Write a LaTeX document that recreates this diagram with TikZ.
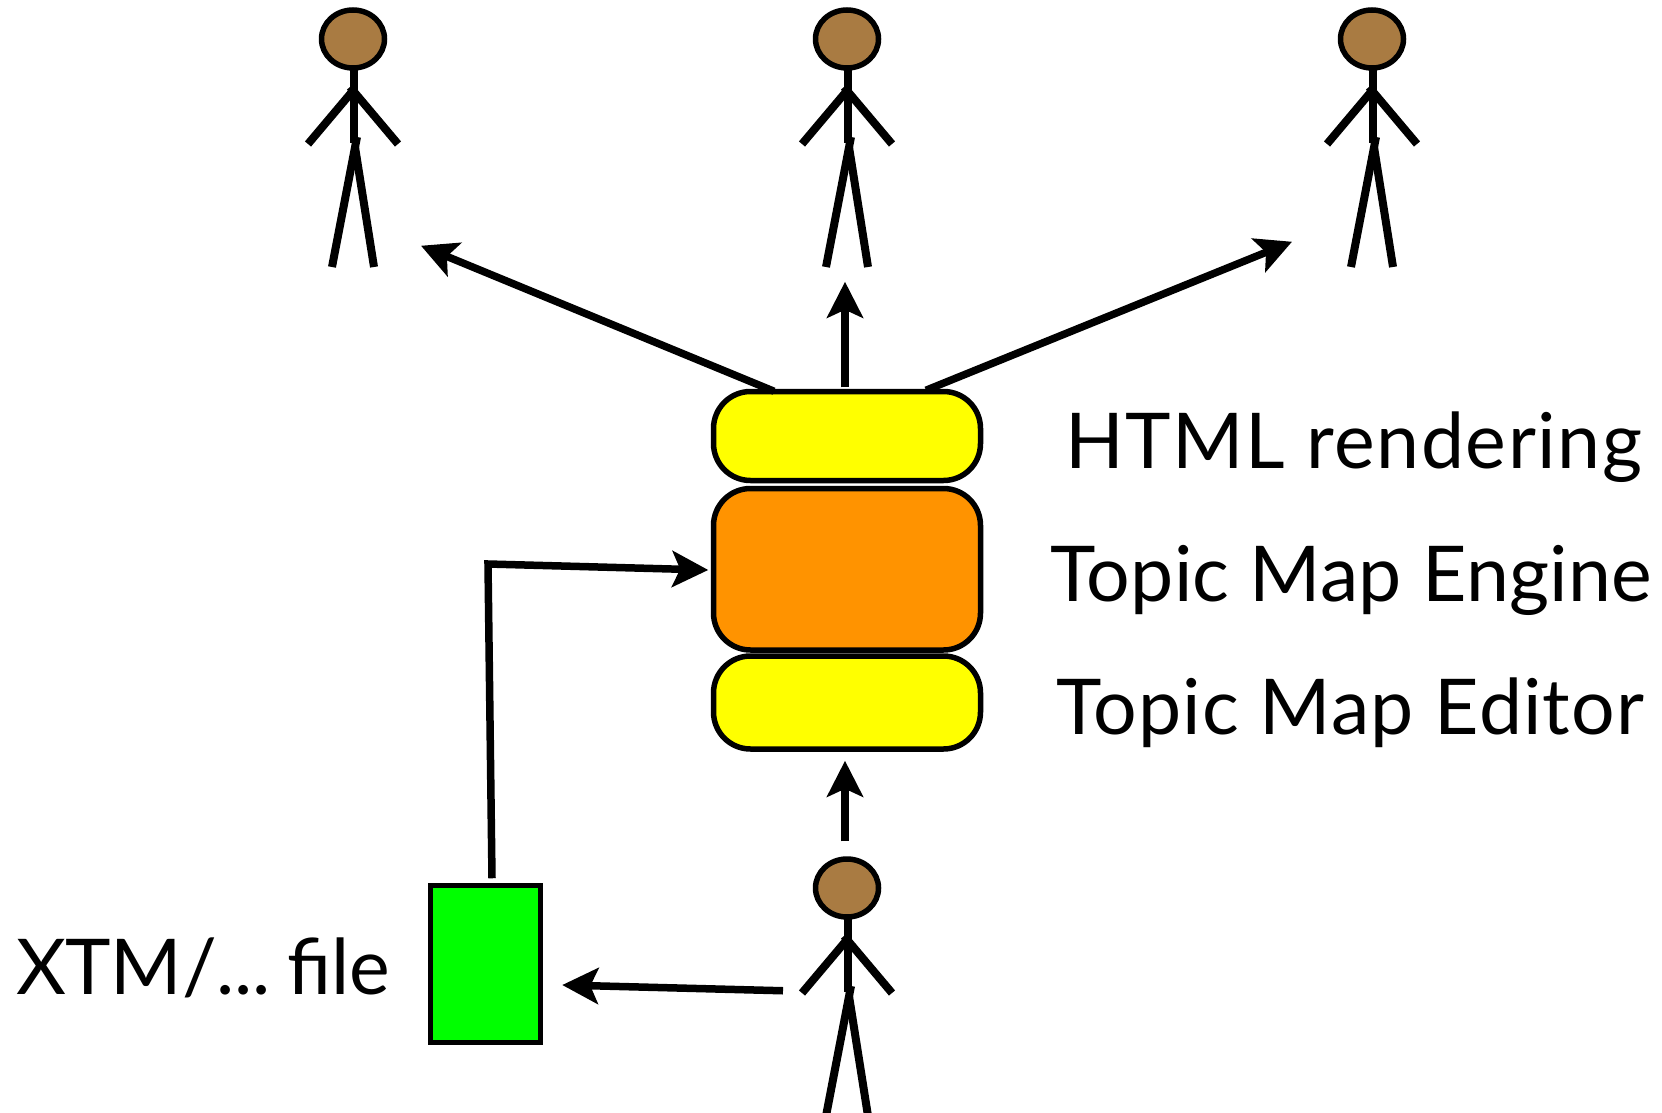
\documentclass[tikz,border=0pt]{standalone}
\usepackage{fontspec}
\setmainfont{Lato}
\usetikzlibrary{shapes.geometric,arrows.meta}
\definecolor{skin}{HTML}{A97B42}
\definecolor{tmorange}{HTML}{FF9300}
\definecolor{tmyellow}{HTML}{FFFF00}
\definecolor{tmgreen}{HTML}{00FF00}
\tikzset{
  limb/.style={line width=8pt,line cap=butt},
  arr/.style={line width=7.5pt,-{Stealth[length=36pt,width=36pt,inset=8pt]},line join=miter},
  layer/.style={draw,line width=5.5pt,rounded corners=37pt,minimum width=267pt,inner sep=0pt},
  lab/.style={anchor=base west,inner sep=0pt,font=\fontsize{77}{77}\selectfont},
  person/.pic={
    \node[name=head,draw,line width=5.5pt,fill=skin,ellipse,minimum width=63pt,minimum height=58pt,inner sep=0pt] at (0,0) {};
    \draw[limb] (1,27) -- (1,104);
    \draw[limb] (-2,54) -- (-45,105);
    \draw[limb] (-3,48) -- (45,105);
    \draw[limb] (4,98) -- (-21,228);
    \draw[limb] (2,108) -- (21,228);
  }
}
\begin{document}
\begin{tikzpicture}[x=1pt,y=-1pt]
\useasboundingbox (0,0) rectangle (1662,1113);
\pic (p1) at (353,39) {person};
\pic (p2) at (847,39) {person};
\pic (p3) at (1372,39) {person};
\pic (p4) at (847,888) {person};
\node[layer,fill=tmyellow,minimum height=89pt] (html) at (847,436) {};
\node[layer,fill=tmorange,minimum height=161.5pt] (engine) at (847,569.25) {};
\node[layer,fill=tmyellow,minimum height=93pt] (editor) at (847,702.5) {};
\node[draw,line width=5.5pt,fill=tmgreen,minimum width=110pt,minimum height=157pt,inner sep=0pt] (file) at (485.5,964) {};
\coordinate (bend) at (488,564);
\draw[arr] ([xshift=-73pt,yshift=-2.5pt]html.north) -- ([xshift=68pt,yshift=-175pt]p1head.south);
\draw[arr] ([xshift=-2pt,yshift=1.5pt]html.north) -- ([xshift=-2pt,yshift=-211pt]p2head.south);
\draw[arr] ([xshift=79pt,yshift=-1.5pt]html.north) -- ([xshift=-80pt,yshift=-171pt]p3head.south);
\draw[arr] ([xshift=6.5pt,yshift=4.5pt]file.north) -- (bend) -- ([xshift=-2.5pt,yshift=-0.75pt]engine.west);
\draw[arr] ([xshift=-2pt,yshift=15pt]p4head.north) -- ([xshift=-2pt,yshift=-9pt]editor.south);
\draw[arr] ([xshift=-64pt,yshift=-71pt]p4head.south) -- ([xshift=19pt,yshift=-21pt]file.east);
\node[lab] (t1) at (1065,468) {\addfontfeature{LetterSpace=2}HTML rendering};
\node[lab] (t2) at (1050,601) {\addfontfeature{LetterSpace=0.4}Topic Map Engine};
\node[lab] (t3) at (1056,734) {\addfontfeature{LetterSpace=1.5}Topic Map Editor};
\node[lab] (t4) at (16,994) {\addfontfeature{LetterSpace=-0.5}XTM/...\hspace{-8pt} file};
\end{tikzpicture}
\end{document}
